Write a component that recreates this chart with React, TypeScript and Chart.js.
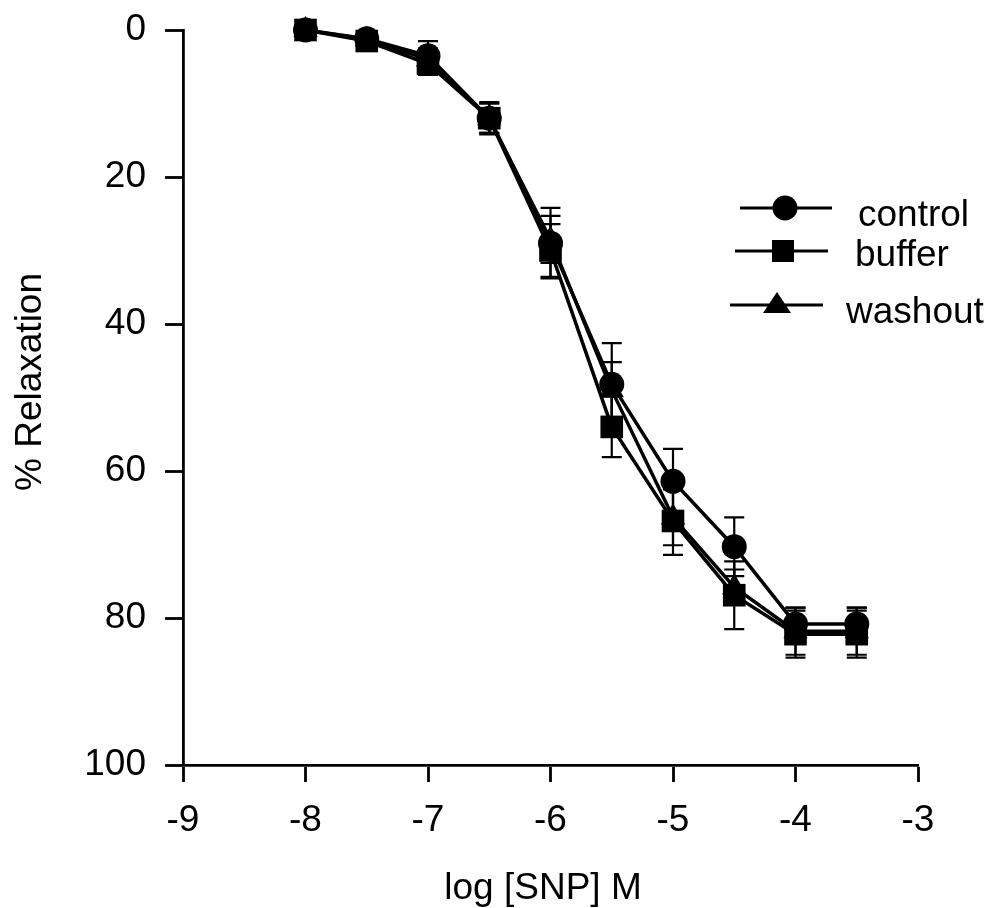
import React, { useEffect, useRef } from "react";
import { Chart, registerables } from "chart.js";

Chart.register(...registerables);

// ---- data ----
const logSNP = [-8, -7.5, -7, -6.5, -6, -5.5, -5, -4.5, -4, -3.5];

const controlMean = [0, 1.2, 3.5, 12, 29, 48.2, 61.4, 70.3, 80.8, 80.8];
const controlErr = [0.5, 0.8, 2, 2.2, 4.8, 5.6, 4.4, 4, 2.2, 2.2];

const bufferMean = [0, 1.5, 4.6, 12, 30, 54, 66.8, 76.9, 82.2, 82.2];
const bufferErr = [0.5, 0.8, 1.5, 2, 3.6, 4.1, 4.6, 4.6, 3.2, 3.2];

const washoutMean = [0, 1.3, 4, 12, 28.5, 49, 66.3, 75.8, 81.8, 81.8];
const washoutErr = [0.5, 0.8, 1.5, 2, 3.2, 3.8, 3.8, 2.4, 3.2, 3.2];

const seriesLabels = ["control", "buffer", "washout"];
const xTickValues = [-9, -8, -7, -6, -5, -4, -3];
const yTickValues = [0, 20, 40, 60, 80, 100];
const xTitle = "log [SNP] M";
const yTitle = "% Relaxation";

const FONT = '"Liberation Sans", Arial, Helvetica, sans-serif';

const errorBarPlugin = {
  id: "errorBars",
  beforeDatasetsDraw(chart: any) {
    const ctx = chart.ctx;
    const xs = chart.scales.x;
    const ys = chart.scales.y;
    ctx.save();
    ctx.strokeStyle = "#000";
    ctx.lineWidth = 2.2;
    chart.data.datasets.forEach((ds: any) => {
      ds.data.forEach((p: any, i: number) => {
        const e = ds.errors[i];
        const px = xs.getPixelForValue(p.x);
        const t = ys.getPixelForValue(p.y - e);
        const b = ys.getPixelForValue(p.y + e);
        const cap = 10;
        ctx.beginPath();
        ctx.moveTo(px, t);
        ctx.lineTo(px, b);
        ctx.moveTo(px - cap, t);
        ctx.lineTo(px + cap, t);
        ctx.moveTo(px - cap, b);
        ctx.lineTo(px + cap, b);
        ctx.stroke();
      });
    });
    ctx.restore();
  },
};

// legend + axis-title placement (style only)
const legendRows = [
  { x1: 740, x2: 832, y: 208, mx: 785, tx: 858, ty: 226 },
  { x1: 735, x2: 828, y: 251, mx: 783, tx: 855, ty: 266 },
  { x1: 730, x2: 823, y: 305, mx: 777, tx: 846, ty: 323 },
];

const overlayPlugin = {
  id: "overlay",
  afterDraw(chart: any) {
    const ctx = chart.ctx;
    ctx.save();
    chart.data.datasets.forEach((ds: any, i: number) => {
      const r = legendRows[i];
      ctx.strokeStyle = "#000";
      ctx.fillStyle = "#000";
      ctx.lineWidth = 2.8;
      ctx.beginPath();
      ctx.moveTo(r.x1, r.y);
      ctx.lineTo(r.x2, r.y);
      ctx.stroke();
      ctx.beginPath();
      if (ds.pointStyle === "circle") {
        ctx.arc(r.mx, r.y, 12.5, 0, Math.PI * 2);
      } else if (ds.pointStyle === "rect") {
        ctx.rect(r.mx - 11, r.y - 11, 22, 22);
      } else {
        ctx.moveTo(r.mx, r.y - 13);
        ctx.lineTo(r.mx + 14, r.y + 8);
        ctx.lineTo(r.mx - 14, r.y + 8);
        ctx.closePath();
      }
      ctx.fill();
      ctx.font = `37px ${FONT}`;
      ctx.textAlign = "left";
      ctx.textBaseline = "alphabetic";
      ctx.fillText(ds.label, r.tx, r.ty);
    });
    // axis titles
    ctx.fillStyle = "#000";
    ctx.font = `37px ${FONT}`;
    ctx.textAlign = "center";
    ctx.textBaseline = "alphabetic";
    ctx.fillText(xTitle, 543, 899);
    ctx.translate(41, 382);
    ctx.rotate(-Math.PI / 2);
    ctx.fillText(yTitle, 0, 0);
    ctx.restore();
  },
};

export default function App() {
  const canvasRef = useRef<HTMLCanvasElement | null>(null);

  useEffect(() => {
    const canvas = canvasRef.current;
    if (!canvas) return;
    const mk = (ys: number[]) => logSNP.map((x, i) => ({ x, y: ys[i] }));
    const base = {
      borderColor: "#000",
      backgroundColor: "#000",
      borderWidth: 3.5,
      pointBackgroundColor: "#000",
      pointBorderColor: "#000",
      pointBorderWidth: 0,
      tension: 0,
      clip: false,
      showLine: true,
    };
    const chart = new Chart(canvas, {
      type: "line",
      data: {
        datasets: [
          { ...base, label: seriesLabels[0], data: mk(controlMean), errors: controlErr, pointStyle: "circle", pointRadius: 12.5, pointHoverRadius: 12.5 } as any,
          { ...base, label: seriesLabels[1], data: mk(bufferMean), errors: bufferErr, pointStyle: "rect", pointRadius: 16, pointHoverRadius: 16 } as any,
          { ...base, label: seriesLabels[2], data: mk(washoutMean), errors: washoutErr, pointStyle: "triangle", pointRadius: 14, pointHoverRadius: 14 } as any,
        ],
      },
      options: {
        responsive: false,
        animation: false,
        events: [],
        layout: { padding: { top: 30, right: 74, left: 0, bottom: 0 } },
        plugins: { legend: { display: false }, tooltip: { enabled: false } },
        scales: {
          x: {
            type: "linear",
            min: -9,
            max: -3,
            afterFit: (s: any) => { s.height = 143; },
            afterBuildTicks: (s: any) => { s.ticks = xTickValues.map((v) => ({ value: v })); },
            ticks: { color: "#000", font: { family: FONT, size: 37 }, padding: 17, maxRotation: 0 },
            grid: { drawOnChartArea: false, drawTicks: true, tickLength: 17, tickColor: "#000", tickWidth: 2.8 },
            border: { display: true, color: "#000", width: 2.8 },
          },
          y: {
            type: "linear",
            min: 0,
            max: 100,
            reverse: true,
            afterFit: (s: any) => { s.width = 183; },
            afterBuildTicks: (s: any) => { s.ticks = yTickValues.map((v) => ({ value: v })); },
            ticks: { color: "#000", font: { family: FONT, size: 37, lineHeight: 0.5 }, padding: 19 },
            grid: { drawOnChartArea: false, drawTicks: true, tickLength: 18, tickColor: "#000", tickWidth: 2.8 },
            border: { display: true, color: "#000", width: 2.8 },
          },
        },
      } as any,
      plugins: [errorBarPlugin, overlayPlugin],
    });
    return () => chart.destroy();
  }, []);

  return (
    <div style={{ position: "absolute", left: 0, top: 0, width: 992, height: 908, background: "#fff" }}>
      <canvas ref={canvasRef} width={992} height={908} style={{ display: "block" }} />
    </div>
  );
}
